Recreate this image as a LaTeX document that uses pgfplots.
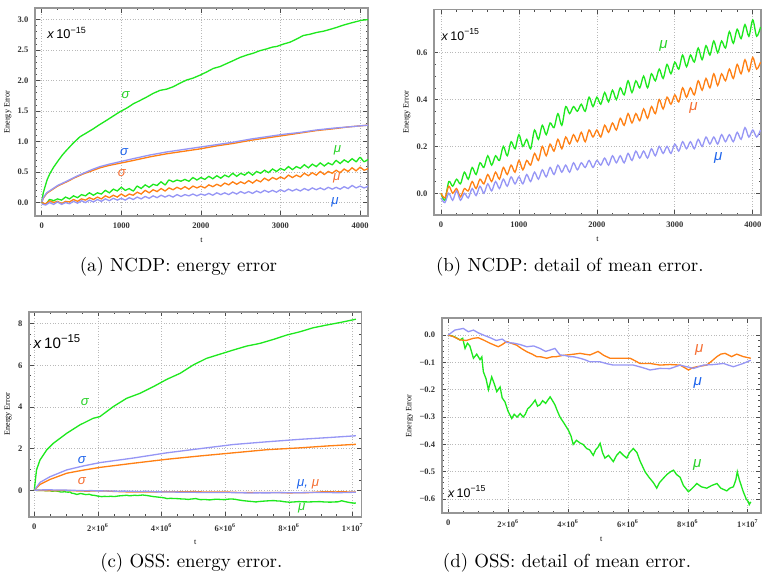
\documentclass[border=0pt]{standalone}
\usepackage{pgfplots}
\pgfplotsset{compat=1.18}
\usepackage{pgfplotstable}
\usepackage{fontspec}
\newfontfamily\tickfont{Liberation Serif}
\newfontfamily\mmasans{Liberation Sans}

\definecolor{mgreen}{RGB}{30,232,30}
\definecolor{morange}{RGB}{255,128,20}
\definecolor{mblue}{RGB}{150,150,245}
\definecolor{lblue}{RGB}{30,100,235}
\definecolor{lorange}{RGB}{245,110,50}
\definecolor{lgreen}{RGB}{40,210,40}
\definecolor{framegray}{RGB}{150,150,150}

% NCDP: mean energy error (green, orange, blue)
\pgfplotstableread{
t g o b
0 0.00 0.00 -0.02
50 -0.03 -0.02 -0.04
100 0.05 0.03 0.00
150 0.03 0.00 -0.03
200 0.06 0.02 0.01
250 0.04 -0.015 -0.03
300 0.09 0.02 0.00
350 0.06 0.01 -0.02
400 0.11 0.05 0.02
450 0.08 0.02 -0.01
500 0.13 0.06 0.03
550 0.11 0.04 0.00
600 0.16 0.08 0.04
650 0.12 0.05 0.01
700 0.16 0.09 0.05
750 0.14 0.06 0.02
800 0.20 0.11 0.06
850 0.16 0.08 0.03
900 0.22 0.12 0.07
950 0.19 0.09 0.04
1000 0.25 0.14 0.07
1050 0.20 0.10 0.04
1100 0.23 0.14 0.08
1150 0.19 0.12 0.05
1200 0.27 0.17 0.09
1250 0.23 0.14 0.06
1300 0.29 0.20 0.10
1350 0.25 0.16 0.07
1400 0.30 0.21 0.11
1450 0.28 0.18 0.08
1500 0.34 0.23 0.12
1550 0.29 0.19 0.09
1600 0.37 0.24 0.12
1650 0.34 0.21 0.09
1700 0.37 0.25 0.13
1750 0.35 0.22 0.10
1800 0.38 0.26 0.13
1850 0.35 0.22 0.11
1900 0.41 0.27 0.14
1950 0.37 0.24 0.11
2000 0.41 0.27 0.14
2050 0.38 0.24 0.12
2100 0.43 0.29 0.15
2150 0.39 0.26 0.12
2200 0.44 0.30 0.16
2250 0.40 0.27 0.13
2300 0.45 0.32 0.16
2350 0.42 0.29 0.13
2400 0.48 0.34 0.17
2450 0.43 0.30 0.14
2500 0.48 0.34 0.18
2550 0.45 0.31 0.15
2600 0.50 0.36 0.18
2650 0.45 0.32 0.15
2700 0.51 0.37 0.19
2750 0.48 0.34 0.16
2800 0.53 0.40 0.20
2850 0.49 0.36 0.17
2900 0.55 0.41 0.20
2950 0.51 0.38 0.17
3000 0.56 0.42 0.21
3050 0.53 0.39 0.18
3100 0.59 0.45 0.22
3150 0.54 0.41 0.19
3200 0.59 0.45 0.22
3250 0.56 0.42 0.19
3300 0.62 0.48 0.23
3350 0.57 0.44 0.20
3400 0.63 0.49 0.24
3450 0.59 0.45 0.21
3500 0.65 0.51 0.24
3550 0.60 0.46 0.21
3600 0.65 0.51 0.25
3650 0.62 0.48 0.22
3700 0.69 0.53 0.25
3750 0.64 0.49 0.22
3800 0.70 0.55 0.26
3850 0.66 0.51 0.23
3900 0.72 0.57 0.28
3950 0.67 0.52 0.24
4000 0.74 0.58 0.27
4050 0.67 0.53 0.24
4100 0.71 0.56 0.27
}\ncdpmu

% NCDP: standard deviation
\pgfplotstableread{
t s
0 0.0
20 0.16
42 0.26
70 0.38
105 0.48
150 0.58
209 0.69
260 0.78
314 0.86
400 0.98
482 1.08
560 1.14
649 1.21
730 1.28
817 1.35
900 1.42
984 1.49
1070 1.55
1152 1.62
1230 1.67
1319 1.73
1400 1.79
1487 1.84
1570 1.86
1654 1.90
1740 1.96
1822 2.01
1900 2.04
1990 2.09
2070 2.14
2157 2.20
2240 2.23
2325 2.28
2410 2.33
2492 2.38
2580 2.42
2660 2.45
2740 2.49
2827 2.52
2900 2.55
2953 2.56
3040 2.60
3120 2.63
3200 2.68
3288 2.74
3370 2.76
3455 2.79
3540 2.81
3623 2.84
3700 2.87
3791 2.91
3900 2.95
4021 2.99
4100 3.00
}\ncdpsg

\pgfplotstableread{
t b o
0 0 0
20 0.08 0.07
63 0.16 0.15
120 0.21 0.20
200 0.28 0.27
314 0.35 0.34
420 0.42 0.41
523 0.48 0.47
630 0.54 0.52
733 0.59 0.57
850 0.63 0.61
984 0.67 0.645
1150 0.72 0.69
1361 0.78 0.75
1571 0.83 0.80
1780 0.87 0.84
1990 0.91 0.88
2200 0.95 0.93
2408 0.99 0.97
2620 1.04 1.02
2827 1.08 1.06
3040 1.12 1.10
3246 1.15 1.14
3450 1.19 1.18
3665 1.22 1.21
3850 1.24 1.24
4021 1.26 1.26
4100 1.27 1.27
}\ncdpsbo

% OSS: t in units of 10^6
\pgfplotstableread{
t s
0 0
0.07 0.98
0.18 1.46
0.39 1.94
0.6 2.26
0.81 2.5
1.02 2.74
1.43 3.14
1.85 3.46
2.06 3.54
2.48 4.02
2.9 4.42
3.32 4.66
3.74 4.98
4.16 5.33
4.58 5.62
4.99 6.02
5.41 6.34
5.83 6.54
6.25 6.74
6.67 6.93
7.09 7.06
7.51 7.25
7.93 7.46
8.35 7.62
8.76 7.81
9.18 7.94
9.6 8.06
10.1 8.22
}\osssg

\pgfplotstableread{
t b o
0 0 0
0.18 0.38 0.28
0.49 0.65 0.52
1.02 0.98 0.82
1.54 1.17 0.97
2.06 1.33 1.10
3.11 1.55 1.30
4.16 1.80 1.49
5.2 2.00 1.65
6.25 2.20 1.80
7.3 2.33 1.95
8.35 2.45 2.04
9.2 2.53 2.13
10.1 2.62 2.21
}\osssbo

\pgfplotstableread{
t g
0 0
0.2 -0.006
0.39 -0.018
0.48 -0.012
0.56 -0.049
0.64 -0.03
0.72 -0.04
0.84 -0.085
0.95 -0.07
1.06 -0.09
1.12 -0.08
1.17 -0.134
1.26 -0.16
1.34 -0.20
1.45 -0.153
1.54 -0.18
1.62 -0.207
1.73 -0.19
1.80 -0.23
1.89 -0.244
2.0 -0.28
2.12 -0.305
2.2 -0.29
2.3 -0.30
2.40 -0.287
2.50 -0.30
2.57 -0.29
2.65 -0.27
2.73 -0.262
2.82 -0.25
2.9 -0.238
2.98 -0.26
3.06 -0.255
3.15 -0.24
3.25 -0.25
3.40 -0.226
3.48 -0.24
3.56 -0.255
3.65 -0.28
3.73 -0.30
3.85 -0.32
4.01 -0.348
4.10 -0.37
4.17 -0.40
4.28 -0.385
4.40 -0.395
4.50 -0.40
4.62 -0.415
4.72 -0.42
4.84 -0.44
4.92 -0.42
5.0 -0.41
5.07 -0.396
5.15 -0.43
5.23 -0.45
5.35 -0.44
5.51 -0.463
5.62 -0.44
5.73 -0.427
5.85 -0.44
5.96 -0.45
6.05 -0.43
6.18 -0.415
6.3 -0.43
6.4 -0.46
6.57 -0.50
6.7 -0.52
6.85 -0.54
6.96 -0.56
7.05 -0.54
7.18 -0.524
7.3 -0.51
7.42 -0.50
7.52 -0.494
7.62 -0.51
7.74 -0.52
7.85 -0.55
8.02 -0.573
8.15 -0.56
8.30 -0.543
8.45 -0.555
8.63 -0.56
8.8 -0.55
8.97 -0.543
9.1 -0.56
9.30 -0.57
9.40 -0.56
9.52 -0.555
9.60 -0.53
9.65 -0.50
9.72 -0.53
9.85 -0.573
9.95 -0.60
10.02 -0.61
10.05 -0.62
10.1 -0.61
}\ossmug

\pgfplotstableread{
t o
0 0
0.17 -0.006
0.39 -0.018
0.6 -0.02
0.84 -0.012
1.0 -0.01
1.17 -0.018
1.39 -0.03
1.67 -0.043
1.8 -0.035
1.95 -0.024
2.1 -0.03
2.28 -0.037
2.45 -0.05
2.62 -0.061
2.8 -0.07
2.95 -0.079
3.1 -0.08
3.29 -0.085
3.45 -0.08
3.62 -0.079
3.8 -0.075
3.96 -0.073
4.2 -0.07
4.40 -0.067
4.55 -0.07
4.73 -0.073
4.9 -0.065
5.0 -0.06
5.2 -0.075
5.4 -0.085
5.73 -0.085
6.07 -0.085
6.25 -0.095
6.4 -0.104
6.74 -0.104
7.07 -0.11
7.4 -0.108
7.74 -0.11
7.9 -0.12
8.02 -0.128
8.15 -0.12
8.30 -0.116
8.63 -0.11
8.8 -0.095
8.97 -0.079
9.1 -0.07
9.24 -0.067
9.46 -0.079
9.63 -0.07
9.85 -0.079
10.1 -0.085
}\ossmuo

\pgfplotstableread{
t b
0 0
0.22 0.018
0.5 0.024
0.67 0.012
0.84 0.018
1.0 0.008
1.17 0.0
1.4 -0.01
1.6 -0.02
1.8 -0.015
1.95 -0.027
2.2 -0.03
2.4 -0.035
2.62 -0.043
2.85 -0.04
3.06 -0.049
3.25 -0.06
3.40 -0.055
3.56 -0.049
3.73 -0.073
3.9 -0.075
4.06 -0.079
4.2 -0.08
4.40 -0.085
4.55 -0.09
4.73 -0.098
5.07 -0.098
5.3 -0.105
5.51 -0.11
5.85 -0.11
6.18 -0.11
6.35 -0.115
6.51 -0.12
6.74 -0.128
7.07 -0.122
7.4 -0.123
7.74 -0.11
7.96 -0.116
8.19 -0.122
8.52 -0.11
8.86 -0.108
9.19 -0.104
9.35 -0.11
9.52 -0.116
9.85 -0.104
10.1 -0.092
}\ossmub

\pgfplotsset{
  mma/.style={
    scale only axis, anchor=south west,
    axis line style={draw=framegray, line width=0.9pt},
    tick style={draw=black!70, line width=0.35pt},
    major tick length=2.4pt, minor tick length=1.3pt,
    tick align=inside,
    grid=major, grid style={densely dotted, gray!55, line width=0.35pt},
    tick label style={font=\tickfont\bfseries\fontsize{4.5}{5}\selectfont, text=black!80},
    label style={font=\tickfont\fontsize{4.3}{5}\selectfont},
    /pgf/number format/assume math mode=true,
    /pgf/number format/1000 sep={},
    scaled ticks=false,
    xlabel={t}, ylabel={Energy Error},
    xlabel style={yshift=2pt},
    ylabel style={yshift=-3.5pt},
    every axis plot/.append style={line width=0.7pt},
  },
}
\tikzset{
  lbl/.style={font=\mmasans\itshape\fontsize{7}{7}\selectfont, inner sep=0pt},
  lblb/.style={font=\mmasans\itshape\fontsize{8}{8}\selectfont, inner sep=0pt},
  expnode/.style={font=\mmasans\fontsize{#1}{#1}\selectfont, anchor=west, inner sep=0pt},
}

\begin{document}
\begin{tikzpicture}
\useasboundingbox (0,0) rectangle (403.86pt,306.87pt);

% (a)
\begin{axis}[mma, at={(18.55pt,192.4pt)}, width=176.5pt, height=110.2pt,
  xmin=-84, xmax=4100, ymin=-0.22, ymax=3.19,
  xtick={0,1000,2000,3000,4000}, ytick={0,0.5,1,1.5,2,2.5,3},
  minor x tick num=4, minor y tick num=4,
  yticklabel style={/pgf/number format/fixed, /pgf/number format/fixed zerofill, /pgf/number format/precision=1}]
\addplot[mgreen] table[x=t, y=s] {\ncdpsg};
\addplot[morange] table[x=t, y=o] {\ncdpsbo};
\addplot[mblue] table[x=t, y=b] {\ncdpsbo};
\addplot[mgreen, smooth] table[x=t, y=g] {\ncdpmu};
\addplot[morange, smooth] table[x=t, y=o] {\ncdpmu};
\addplot[mblue, smooth] table[x=t, y=b] {\ncdpmu};
\node[expnode=6.8] at (axis cs:67,2.78) {\textit{x}\,10\textsuperscript{−15}};
\node[lbl, text=lgreen] at (axis cs:1055,1.76) {σ};
\node[lbl, text=lblue] at (axis cs:1037,0.83) {σ};
\node[lbl, text=lorange] at (axis cs:1008,0.485) {σ};
\node[lbl, text=lgreen] at (axis cs:3718,0.85) {μ};
\node[lbl, text=lorange] at (axis cs:3706,0.40) {μ};
\node[lbl, text=lblue] at (axis cs:3685,0.01) {μ};
\end{axis}

% (b)
\begin{axis}[mma, at={(230.0pt,192.9pt)}, width=173.3pt, height=109.0pt,
  xmin=-90, xmax=4105, ymin=-0.093, ymax=0.785,
  xtick={0,1000,2000,3000,4000}, ytick={0,0.2,0.4,0.6},
  minor x tick num=4, minor y tick num=3,
  yticklabel style={/pgf/number format/fixed, /pgf/number format/fixed zerofill, /pgf/number format/precision=1}]
\addplot[mgreen, smooth] table[x=t, y=g] {\ncdpmu};
\addplot[morange, smooth] table[x=t, y=o] {\ncdpmu};
\addplot[mblue, smooth] table[x=t, y=b] {\ncdpmu};
\node[expnode=6.6] at (axis cs:5,0.676) {\textit{x}\,10\textsuperscript{−15}};
\node[lblb, text=lgreen] at (axis cs:2855,0.627) {μ};
\node[lblb, text=lorange] at (axis cs:3240,0.363) {μ};
\node[lblb, text=lblue] at (axis cs:3556,0.15) {μ};
\end{axis}

% (c)
\begin{axis}[mma, at={(15.37pt,33.0pt)}, width=176.3pt, height=108.65pt,
  xmin=-0.166, xmax=10.28, ymin=-1.27, ymax=8.58,
  xtick={0,2,4,6,8,10},
  xticklabels={0,2×10\textsuperscript{6},4×10\textsuperscript{6},6×10\textsuperscript{6},8×10\textsuperscript{6},1×10\textsuperscript{7}},
  ytick={0,2,4,6,8},
  minor x tick num=3, minor y tick num=3]
\addplot[mgreen] table[x=t, y=s] {\osssg};
\addplot[morange] table[x=t, y=o] {\osssbo};
\addplot[mblue] table[x=t, y=b] {\osssbo};
\addplot[mgreen] table[x=t, y=g] {\ossmug};
\addplot[morange] table[x=t, y=o] {\ossmuo};
\addplot[mblue] table[x=t, y=b] {\ossmub};
\node[expnode=8] at (axis cs:-0.03,7.14) {\textit{x}\,10\textsuperscript{−15}};
\node[lbl, text=lgreen] at (axis cs:1.59,4.26) {σ};
\node[lbl, text=lblue] at (axis cs:1.49,1.46) {σ};
\node[lbl, text=lorange] at (axis cs:1.49,0.46) {σ};
\node[lbl] at (axis cs:8.6,0.30) {\color{lblue}μ,~\color{lorange}μ};
\node[lbl, text=lgreen] at (axis cs:8.4,-0.87) {μ};
\end{axis}

% (d)
\begin{axis}[mma, at={(234.1pt,34.8pt)}, width=169.2pt, height=103.35pt,
  xmin=-0.22, xmax=10.44, ymin=-0.652, ymax=0.061,
  xtick={0,2,4,6,8,10},
  xticklabels={0,2×10\textsuperscript{6},4×10\textsuperscript{6},6×10\textsuperscript{6},8×10\textsuperscript{6},1×10\textsuperscript{7}},
  ytick={-0.6,-0.5,-0.4,-0.3,-0.2,-0.1,0},
  yticklabels={−0.6,−0.5,−0.4,−0.3,−0.2,−0.1,0.0},
  minor x tick num=3, minor y tick num=4]
\addplot[mgreen] table[x=t, y=g] {\ossmug};
\addplot[morange] table[x=t, y=o] {\ossmuo};
\addplot[mblue] table[x=t, y=b] {\ossmub};
\node[expnode=6.6] at (axis cs:-0.02,-0.573) {\textit{x}\,10\textsuperscript{−15}};
\node[lblb, text=lorange] at (axis cs:8.38,-0.055) {μ};
\node[lblb, text=lblue] at (axis cs:8.33,-0.177) {μ};
\node[lblb, text=lgreen] at (axis cs:8.31,-0.476) {μ};
\end{axis}

% sub-captions
\node at (94.6pt,165.6pt) {(a) NCDP: energy error};
\node at (302pt,165.6pt) {(b) NCDP: detail of mean error.};
\node at (101.4pt,8.6pt) {(c) OSS: energy error.};
\node at (300.5pt,8.6pt) {(d) OSS: detail of mean error.};
\end{tikzpicture}
\end{document}
